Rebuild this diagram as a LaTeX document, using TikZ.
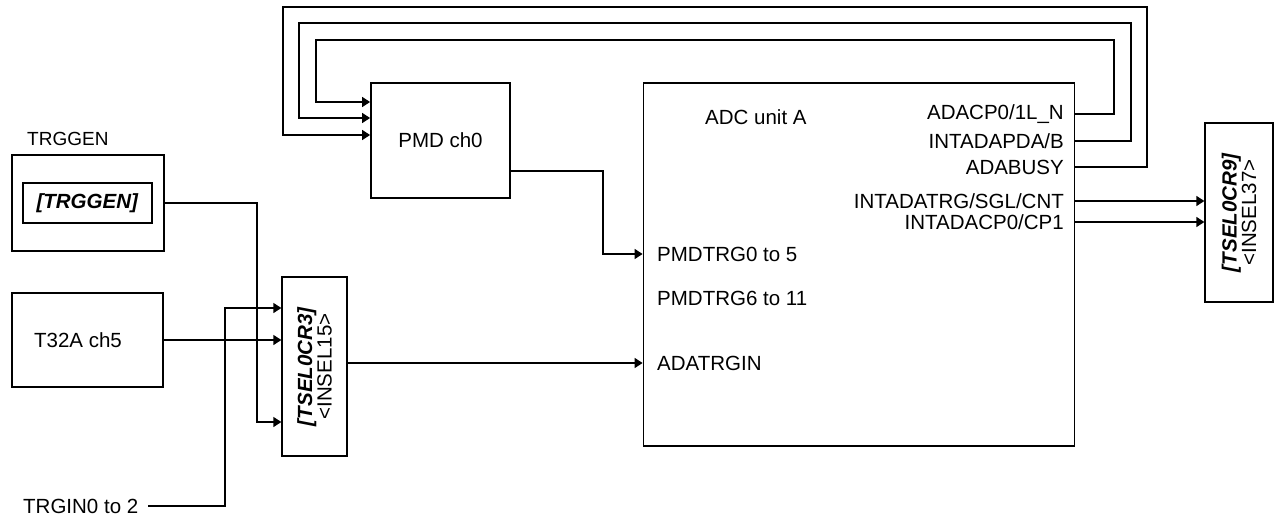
\documentclass[tikz,border=0pt]{standalone}
\usepackage{fontspec}
\setmainfont{Liberation Sans}
\usetikzlibrary{arrows.meta,positioning,calc}

\begin{document}
\begin{tikzpicture}[
  x=1pt, y=-1pt,
  font=\fontsize{20.5}{23}\selectfont,
  arr/.style={-{Triangle[length=8pt,width=10pt]}, line width=1.3pt},
  box/.style={draw, line width=1.8pt, inner sep=0pt},
  selbox/.style={draw, line width=1.3pt, inner sep=0pt},
  seltext/.style={rotate=90, align=center, inner sep=0pt, font=\fontsize{20.5}{15.5}\selectfont},
  lab/.style={inner sep=0pt},
]
\useasboundingbox (0,0) rectangle (1274,519);

% trigger sources
\node[lab, anchor=west, font=\fontsize{19}{22}\selectfont] (trglab) at (27,139) {TRGGEN};
\node[box, minimum width=152, minimum height=96] (trggen) at (88,203) {};
\node[selbox, minimum width=129, minimum height=40] (trgin0) at (87.5,203)
  {\textbf{\textit{[TRGGEN]}}};
\node[box, minimum width=151, minimum height=94] (t32a) at (87.5,340) {};
\node[lab] (t32alab) at (78,340) {T32A ch5};
\node[lab, anchor=west] (trgin) at (23,506) {TRGIN0 to 2};

% selector TSEL0CR3
\node[selbox, minimum width=65, minimum height=179] (sel3) at (314.5,366.5) {};
\node[seltext] (sel3txt) at (sel3.center) {\textbf{\textit{[TSEL0CR3]}}\\<INSEL15>};

% PMD and ADC
\node[box, minimum width=139, minimum height=115] (pmd) at (440.5,140.5) {PMD ch0};
\node[box, minimum width=431, minimum height=363] (adc) at (859,264.5) {};
\node[lab, anchor=west] (adclab) at (705,117) {ADC unit A};

\node[lab, anchor=west] (pmdtrgA) at (657,254) {PMDTRG0 to 5};
\node[lab, anchor=west] (pmdtrgB) at (657,298) {PMDTRG6 to 11};
\node[lab, anchor=west] (adatrgin) at (657,363) {ADATRGIN};

\node[lab, anchor=east] (adacp) at (1064,114) {ADACP0/1L\_N};
\node[lab, anchor=east] (intapd) at (1064,141) {INTADAPDA/B};
\node[lab, anchor=east] (abusy) at (1064,167) {ADABUSY};
\node[lab, anchor=east] (inttrg) at (1064,201) {INTADATRG/SGL/CNT};
\node[lab, anchor=east] (intcp) at (1064,222) {INTADACP0/CP1};

% selector TSEL0CR9
\node[selbox, minimum width=68, minimum height=179] (sel9) at (1239,212.5) {};
\node[seltext] (sel9txt) at (sel9.center) {\textbf{\textit{[TSEL0CR9]}}\\<INSEL37>};

% inputs of TSEL0CR3
\coordinate (b1) at (257,422);
\coordinate (b2) at (225,308);
\draw[arr] (trggen.east) -| (b1) -- (b1 -| sel3.west);
\draw[arr] (t32a.east) -- (t32a.east -| sel3.west);
\draw[arr] ([xshift=10pt]trgin.east) -| (b2) -- (b2 -| sel3.west);

% into ADC
\draw[arr] (sel3.east |- adatrgin) -- (adc.west |- adatrgin);
\coordinate (b3) at (603,171);
\draw[arr] (pmd.east |- b3) -- (b3) |- (adc.west |- pmdtrgA);

% feedback ADC -> PMD
\foreach \src/\xr/\yt/\xl/\yp in {adacp/1114/40/316/102, intapd/1131/23/299/118, abusy/1147/7/283/135}
  \draw[arr] (adc.east |- \src) -| (\xr,\yt) -| (\xl,\yp) -- (pmd.west |- \xl,\yp);

% ADC -> TSEL0CR9
\draw[arr] (adc.east |- inttrg) -- (sel9.west |- inttrg);
\draw[arr] (adc.east |- intcp) -- (sel9.west |- intcp);
\end{tikzpicture}
\end{document}
